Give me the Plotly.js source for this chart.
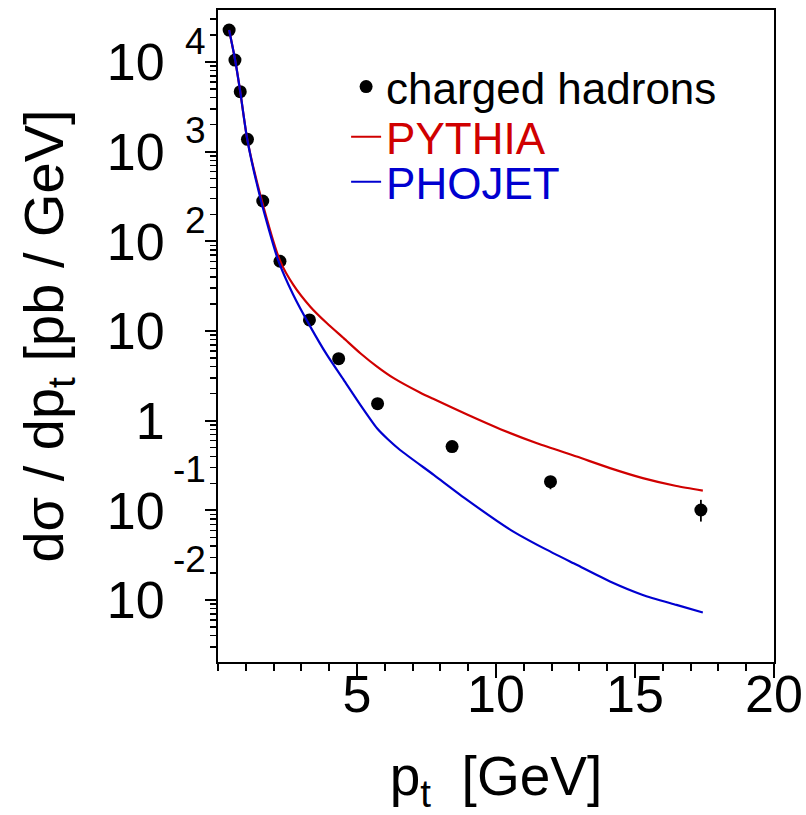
<!DOCTYPE html>
<html>
<head>
<meta charset="utf-8">
<script src="https://cdn.plot.ly/plotly-3.0.1.min.js"></script>
<style>html,body{margin:0;padding:0;background:#fff;}</style>
</head>
<body>
<div id="chart" style="width:806px;height:815px;"></div>
<script>
// Measured data: charged hadrons
const ptData = [0.40, 0.61, 0.80, 1.06, 1.61, 2.23, 3.29, 4.34, 5.74, 8.42, 11.96, 17.37];
const sigmaData = [22700, 10500, 4670, 1374, 282, 60, 13.3, 4.92, 1.55, 0.514, 0.209, 0.101];
const errPlus = [500, 250, 100, 30, 6, 1.2, 0.3, 0.12, 0.04, 0.015, 0.029, 0.030];
const errMinus = [500, 250, 100, 30, 6, 1.2, 0.3, 0.12, 0.04, 0.015, 0.037, 0.026];

// PYTHIA prediction
const ptPythia = [0.40, 0.61, 0.80, 1.05, 1.58, 2.23, 2.71, 3.32, 3.92, 4.52, 5.12, 5.72, 6.32, 7.28, 7.76, 8.96, 10.16, 11.5, 12.9, 14.1, 15.28, 16.49, 17.44];
const sigmaPythia = [22750, 10790, 4667, 1387, 282, 61, 32.7, 18.7, 12.2, 8.32, 5.65, 4.01, 2.98, 2.05, 1.74, 1.17, 0.804, 0.556, 0.398, 0.296, 0.229, 0.187, 0.166];

// PHOJET prediction
const ptPhojet = [0.40, 0.61, 0.80, 1.05, 1.55, 2.16, 2.71, 3.32, 3.92, 4.52, 5.12, 5.72, 6.10, 6.56, 7.76, 8.96, 10.52, 11.71, 12.9, 14.1, 15.28, 16.49, 17.44];
const sigmaPhojet = [22750, 10790, 4667, 1387, 282, 62.1, 25.2, 11.2, 5.41, 2.85, 1.50, 0.822, 0.624, 0.468, 0.249, 0.131, 0.0607, 0.0379, 0.0247, 0.0161, 0.0114, 0.00883, 0.00726];

// Tick labels
const xTickVals = [5, 10, 15, 20];
const xTickText = ['5', '10', '15', '20'];
const yTickVals = [0.01, 0.1, 1, 10, 100, 1000, 10000];
const yTickText = ['10', '10', '1', '10', '10', '10', '10'];
const yExponents = ['-2', '-1', '', '', '2', '3', '4'];

const seriesNames = ['charged hadrons', 'PYTHIA', 'PHOJET'];
const red = '#d00000';
const blue = '#0000d0';
const fontFam = 'Liberation Sans, Arial, sans-serif';

const traces = [
  {
    x: ptData, y: sigmaData, type: 'scatter', mode: 'markers',
    name: seriesNames[0], legend: 'legend',
    marker: {symbol: 'circle', size: 13, color: 'black'},
    error_y: {type: 'data', symmetric: false, array: errPlus, arrayminus: errMinus,
              color: 'black', thickness: 1.8, width: 0}
  },
  {
    x: ptPythia, y: sigmaPythia, type: 'scatter', mode: 'lines',
    name: '<span style="color:' + red + '">' + seriesNames[1] + '</span>', legend: 'legend2',
    line: {color: red, width: 2.2, shape: 'spline', smoothing: 0.6}
  },
  {
    x: ptPhojet, y: sigmaPhojet, type: 'scatter', mode: 'lines',
    name: '<span style="color:' + blue + '">' + seriesNames[2] + '</span>', legend: 'legend3',
    line: {color: blue, width: 2.2, shape: 'spline', smoothing: 0.6}
  }
];

const annotations = [];
yTickVals.forEach(function (v, i) {
  const e = yExponents[i];
  if (!e) return;
  annotations.push({
    xref: 'paper', x: 0, xanchor: 'right', xshift: -10,
    yref: 'y', y: Math.log10(v), yanchor: 'middle',
    yshift: e.charAt(0) === '-' ? 41 : 21,
    text: e, showarrow: false,
    font: {size: 37, color: 'black', family: fontFam}
  });
});

function legendBox(yPaper) {
  return {
    x: 0.2304, y: yPaper, xanchor: 'left', yanchor: 'middle',
    bgcolor: 'rgba(0,0,0,0)', borderwidth: 0,
    font: {size: 44, color: 'black', family: fontFam},
    itemwidth: 30, tracegroupgap: 0
  };
}

const layout = {
  width: 806, height: 815,
  margin: {l: 218, r: 32, t: 10, b: 153},
  paper_bgcolor: 'white', plot_bgcolor: 'white',
  font: {family: fontFam, color: 'black'},
  showlegend: true,
  xaxis: {
    range: [0, 20], tickmode: 'array', tickvals: xTickVals, ticktext: xTickText,
    ticks: 'outside', ticklen: 14, tickwidth: 2, tickcolor: 'black',
    showline: true, linewidth: 2, linecolor: 'black', mirror: true,
    showgrid: false, zeroline: false,
    tickfont: {size: 52},
    ticklabelstandoff: -28,
    minor: {dtick: 1, tick0: 0, ticks: 'outside', ticklen: 7, tickwidth: 2, tickcolor: 'black', showgrid: false},
    title: {text: 'p<sub>t</sub>\u00a0\u00a0[GeV]', font: {size: 55}, standoff: 48}
  },
  yaxis: {
    type: 'log', range: [-2.691, 4.58],
    tickmode: 'array', tickvals: yTickVals, ticktext: yTickText,
    ticks: 'outside', ticklen: 11, tickwidth: 2, tickcolor: 'black',
    showline: true, linewidth: 2, linecolor: 'black', mirror: true,
    showgrid: false, zeroline: false,
    tickfont: {size: 52},
    ticklabelstandoff: 30,
    minor: {dtick: 'D1', ticks: 'outside', ticklen: 6, tickwidth: 1.5, tickcolor: 'black', showgrid: false},
    title: {text: 'd\u03c3 / dp<sub>t</sub> [pb / GeV]\u00a0', font: {size: 56}, standoff: 25}
  },
  legend: legendBox(0.8820),
  legend2: legendBox(0.8050),
  legend3: legendBox(0.7360),
  annotations: annotations
};

Plotly.newPlot('chart', traces, layout, {staticPlot: true, displayModeBar: false});
</script>
</body>
</html>
